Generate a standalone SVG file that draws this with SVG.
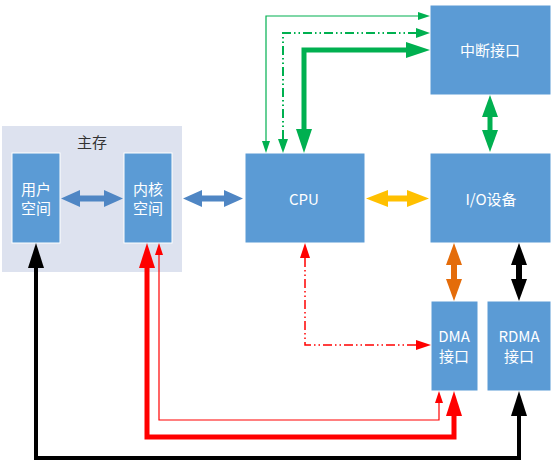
<svg xmlns="http://www.w3.org/2000/svg" width="554" height="465" viewBox="0 0 554 465">
<style>
.box{fill:#5B9BD5;stroke:#FFFFFF;stroke-width:1}
.bg{fill:#DDE2EF}
.lbl{font-family:"Noto Sans CJK SC","Noto Sans",sans-serif;font-size:15px;fill:#FFFFFF;text-anchor:middle;dominant-baseline:central}
.dark{fill:#333333}
.c{fill:none;stroke-linejoin:miter}
.g{stroke:#00B050}
.r{stroke:#FF0000}
.k{stroke:#000000}
.o{stroke:#E46C0A}
.dd{stroke-dasharray:9 3 1.5 3 1.5 3}
</style>
<defs>
<marker id="gS" markerUnits="userSpaceOnUse" markerWidth="12" markerHeight="8" refX="0" refY="4" orient="auto-start-reverse"><path d="M0,0 L12,4 L0,8 Z" fill="#00B050"/></marker>
<marker id="gM" markerUnits="userSpaceOnUse" markerWidth="14" markerHeight="10" refX="0" refY="5" orient="auto-start-reverse"><path d="M0,0 L14,5 L0,10 Z" fill="#00B050"/></marker>
<marker id="gL" markerUnits="userSpaceOnUse" markerWidth="24" markerHeight="16" refX="0" refY="8" orient="auto-start-reverse"><path d="M0,0 L24,8 L0,16 Z" fill="#00B050"/></marker>
<marker id="rS" markerUnits="userSpaceOnUse" markerWidth="12" markerHeight="8" refX="0" refY="4" orient="auto-start-reverse"><path d="M0,0 L12,4 L0,8 Z" fill="#FF0000"/></marker>
<marker id="rM" markerUnits="userSpaceOnUse" markerWidth="15" markerHeight="10" refX="0" refY="5" orient="auto-start-reverse"><path d="M0,0 L15,5 L0,10 Z" fill="#FF0000"/></marker>
<marker id="rL" markerUnits="userSpaceOnUse" markerWidth="25" markerHeight="16" refX="0" refY="8" orient="auto-start-reverse"><path d="M0,0 L25,8 L0,16 Z" fill="#FF0000"/></marker>
<marker id="kL" markerUnits="userSpaceOnUse" markerWidth="25" markerHeight="16" refX="0" refY="8" orient="auto-start-reverse"><path d="M0,0 L25,8 L0,16 Z" fill="#000000"/></marker>
<marker id="oL" markerUnits="userSpaceOnUse" markerWidth="22" markerHeight="16" refX="0" refY="8" orient="auto-start-reverse"><path d="M0,0 L22,8 L0,16 Z" fill="#E46C0A"/></marker>
<marker id="gD" markerUnits="userSpaceOnUse" markerWidth="22" markerHeight="16" refX="0" refY="8" orient="auto-start-reverse"><path d="M0,0 L22,8 L0,16 Z" fill="#00B050"/></marker>
<marker id="kD" markerUnits="userSpaceOnUse" markerWidth="22" markerHeight="16" refX="0" refY="8" orient="auto-start-reverse"><path d="M0,0 L22,8 L0,16 Z" fill="#000000"/></marker>
</defs>

<g id="main-memory">
<rect class="bg" x="2" y="126" width="180" height="146"/>
<text class="lbl dark" x="92" y="141">主存</text>
</g>
<g id="user-space">
<rect class="box" x="12" y="153" width="48" height="90"/>
<text class="lbl" x="36" y="188">用户</text>
<text class="lbl" x="36" y="207">空间</text>
</g>
<g id="kernel-space">
<rect class="box" x="124" y="153" width="48" height="90"/>
<text class="lbl" x="148" y="188">内核</text>
<text class="lbl" x="148" y="207">空间</text>
</g>
<g id="cpu">
<rect class="box" x="245" y="153" width="120" height="90"/>
<text class="lbl" x="304" y="198">CPU</text>
</g>
<g id="io">
<rect class="box" x="430" y="153" width="121" height="90"/>
<text class="lbl" x="491" y="198">I/O设备</text>
</g>
<g id="interrupt">
<rect class="box" x="430" y="5" width="121" height="90"/>
<text class="lbl" x="490" y="49">中断接口</text>
</g>
<g id="dma">
<rect class="box" x="431" y="301" width="47" height="90"/>
<text class="lbl" x="454" y="335">DMA</text>
<text class="lbl" x="454" y="355">接口</text>
</g>
<g id="rdma">
<rect class="box" x="487" y="301" width="64" height="90"/>
<text class="lbl" x="519" y="335">RDMA</text>
<text class="lbl" x="519" y="355">接口</text>
</g>

<g id="connectors">
<polygon fill="#4F86C4" points="61,198.5 80,190 80,195.5 104,195.5 104,190 123,198.5 104,207 104,201.5 80,201.5 80,207"/>
<polygon fill="#4F86C4" points="183,198.5 202,190 202,195.5 224,195.5 224,190 243,198.5 224,207 224,201.5 202,201.5 202,207"/>
<polygon fill="#FFC000" points="366,198.5 388,190 388,195.5 407,195.5 407,190 429,198.5 407,207 407,201.5 388,201.5 388,207"/>

<path class="c g" stroke-width="1.2" d="M266,141 L266,16 L418,16" marker-start="url(#gS)" marker-end="url(#gS)"/>
<path class="c g dd" stroke-width="2" d="M283,139 L283,33 L416,33" marker-start="url(#gM)" marker-end="url(#gM)"/>
<path class="c g" stroke-width="5" d="M304,129 L304,50 L406,50" marker-start="url(#gL)" marker-end="url(#gL)"/>
<path class="c g" stroke-width="5" d="M490,117 L490,130" marker-start="url(#gD)" marker-end="url(#gD)"/>
<path class="c o" stroke-width="6" d="M454,265 L454,279" marker-start="url(#oL)" marker-end="url(#oL)"/>
<path class="c k" stroke-width="6" d="M519,265 L519,279" marker-start="url(#kD)" marker-end="url(#kD)"/>
<path class="c r dd" stroke-width="1.5" d="M305,258 L305,345 L416,345" marker-start="url(#rM)" marker-end="url(#rM)"/>
<path class="c r" stroke-width="1.2" d="M159,255 L159,420 L439,420 L439,403" marker-start="url(#rS)" marker-end="url(#rS)"/>
<path class="c r" stroke-width="5" d="M147,268 L147,437 L454,437 L454,416" marker-start="url(#rL)" marker-end="url(#rL)"/>
<path class="c k" stroke-width="4" d="M36,268 L36,458 L519,458 L519,416" marker-start="url(#kL)" marker-end="url(#kL)"/>
</g>
</svg>
